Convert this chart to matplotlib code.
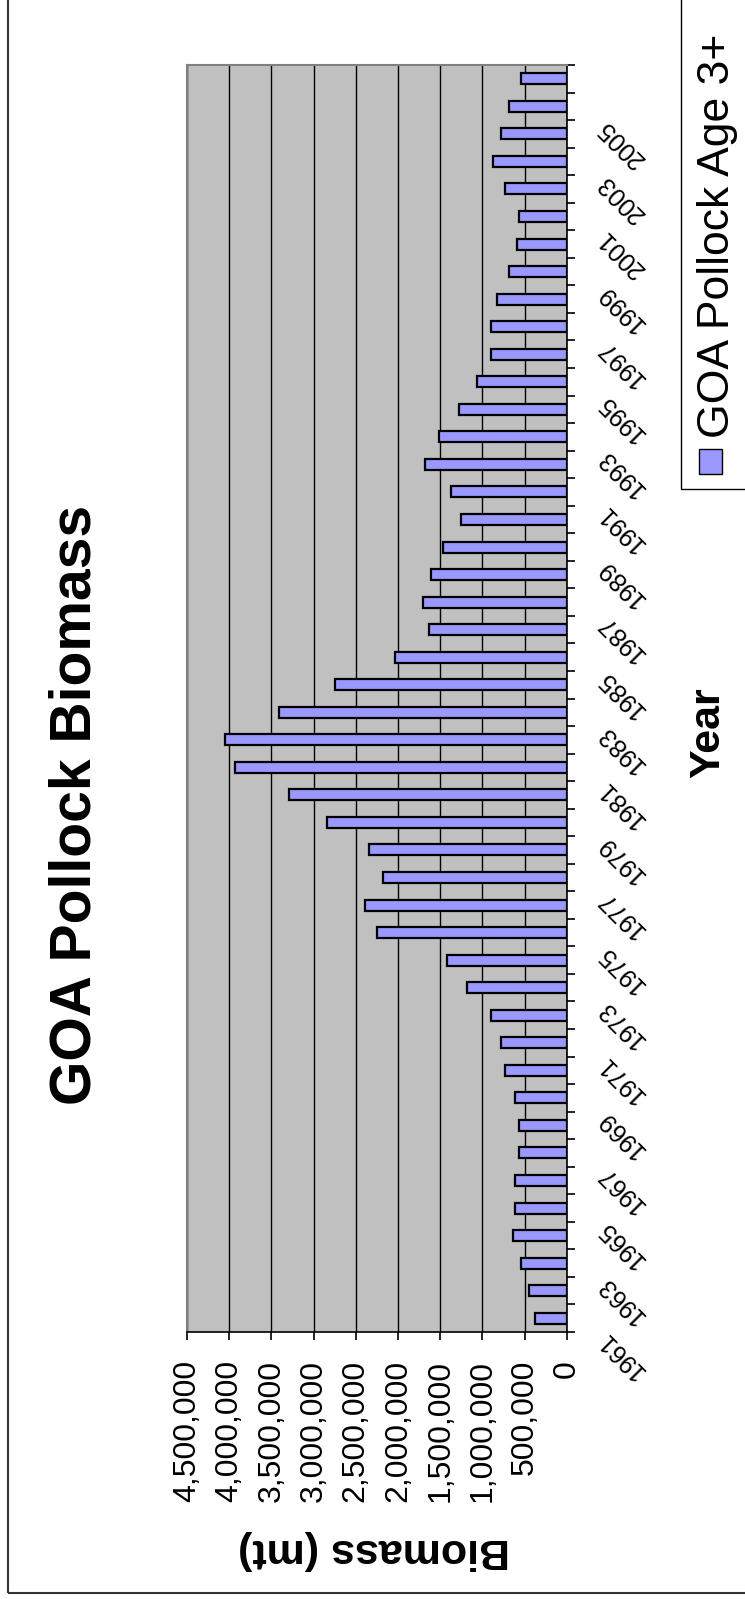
import numpy as np
import matplotlib
matplotlib.use('Agg')
import matplotlib.pyplot as plt
from matplotlib.patches import Rectangle
from matplotlib.ticker import FuncFormatter
from matplotlib.transforms import offset_copy

plt.rcParams['font.family'] = ['Liberation Sans', 'DejaVu Sans']

# survey years and age 3+ biomass (metric tons)
years = list(range(1961, 2007))
biomass = [380000, 451000, 546000, 641000, 617000, 617000, 569000, 569000,
           617000, 735000, 783000, 902000, 1186000, 1423000, 2246000, 2388000,
           2175000, 2341000, 2839000, 3290000, 3930000, 4049000, 3408000, 2744000,
           2032000, 1637000, 1708000, 1613000, 1471000, 1257000, 1376000, 1684000,
           1518000, 1281000, 1068000, 902000, 902000, 830000, 688000, 593000,
           569000, 735000, 878000, 783000, 688000, 546000]
value_ticks = [0, 500000, 1000000, 1500000, 2000000, 2500000, 3000000,
               3500000, 4000000, 4500000]
year_labels = [y for y in years if y % 2 == 1]

W, H = 745, 1599
fig = plt.figure(figsize=(W / 100, H / 100), dpi=100)


def fx(px):
    return px / W


def fy(py):
    # pixel row measured from the top -> figure fraction
    return 1 - py / H


# plot area
ax = fig.add_axes([fx(187), fy(1332), fx(566.7) - fx(187), fy(65) - fy(1332)])
ax.set_facecolor('#C0C0C0')
ax.barh(years, biomass, height=0.4, color='#9999FF', edgecolor='black',
        linewidth=1.6, zorder=3)
ax.set_xlim(value_ticks[-1], 0)
ax.set_ylim(years[0] - 0.5, years[-1] + 0.5)

ax.set_xticks(value_ticks)
ax.xaxis.set_major_formatter(FuncFormatter(lambda v, p: '{:,.0f}'.format(v)))
ax.grid(axis='x', color='black', linewidth=1.0, zorder=1)
ax.tick_params(axis='x', direction='out', length=6, width=1.2, pad=14,
               labelsize=23, labelrotation=90)

# year axis on the right: tick marks between categories, labels every other year
ax.yaxis.tick_right()
ax.set_yticks(np.arange(years[0] - 0.5, years[-1] + 1, 1))
ax.set_yticklabels([])
ax.tick_params(axis='y', which='major', direction='out', length=6, width=1.2)

label_tr = offset_copy(ax.get_yaxis_transform(), fig=fig, x=35, y=-17,
                       units='dots')
for y in year_labels:
    ax.text(1, y, str(y), transform=label_tr, rotation=135,
            rotation_mode='anchor', ha='right', va='center', fontsize=18,
            clip_on=False)

for side in ['top', 'left']:
    ax.spines[side].set_color('#808080')
    ax.spines[side].set_linewidth(1.5)
for side in ['right', 'bottom']:
    ax.spines[side].set_color('black')
    ax.spines[side].set_linewidth(1.2)

# titles
fig.text(fx(76), fy(805), 'GOA Pollock Biomass', rotation=90, ha='center',
         va='center', fontsize=41, fontweight='bold')
fig.text(fx(708), fy(733), 'Year', rotation=90, ha='center', va='center',
         fontsize=31, fontweight='bold')
fig.text(fx(374), fy(1550), 'Biomass (mt)', rotation=180, ha='center',
         va='center', fontsize=31, fontweight='bold')

# legend box
fig.add_artist(Rectangle((fx(681), fy(489)), fx(800) - fx(681), fy(-20) - fy(489),
                         transform=fig.transFigure, facecolor='white',
                         edgecolor='black', linewidth=1.0, clip_on=False))
fig.add_artist(Rectangle((fx(699), fy(474)), fx(722) - fx(699), fy(449) - fy(474),
                         transform=fig.transFigure, facecolor='#9999FF',
                         edgecolor='black', linewidth=1.0))
fig.text(fx(718), fy(438), 'GOA Pollock Age 3+', rotation=90, ha='center',
         va='bottom', fontsize=32)

# outer chart border
fig.add_artist(Rectangle((fx(8), fy(1593)), fx(800) - fx(8), fy(-20) - fy(1593),
                         transform=fig.transFigure, facecolor='none',
                         edgecolor='#333333', linewidth=1.5, clip_on=False))

fig.savefig('out.png', dpi=100)
